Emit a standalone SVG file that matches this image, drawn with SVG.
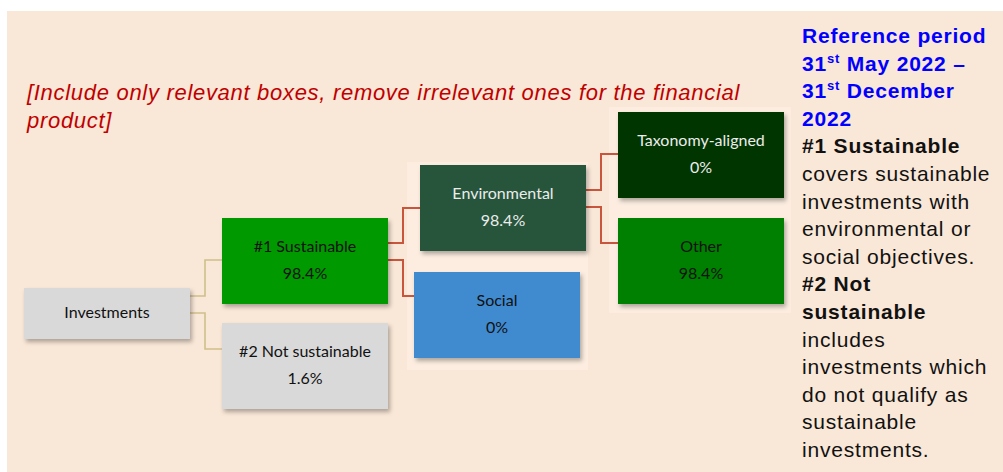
<svg xmlns="http://www.w3.org/2000/svg" width="1003" height="472" viewBox="0 0 1003 472">
<defs>
<filter id="sh" x="-10%" y="-10%" width="125%" height="130%">
<feDropShadow dx="2" dy="3" stdDeviation="2" flood-color="#000" flood-opacity="0.3"/>
</filter>
<style>
.box{filter:url(#sh);}
.bt{font-family:Lato,"Open Sans",sans-serif;font-size:16px;text-anchor:middle;}
.dk{fill:#111;}
.lt{fill:#ececec;}
.gold{fill:none;stroke:#cfc08a;stroke-width:1.6;}
.red{fill:none;stroke:#c9553c;stroke-width:2;}
.note{font-family:"Liberation Sans",Arial,sans-serif;font-size:22px;font-style:italic;fill:#c00000;letter-spacing:0.7px;}
.side{font-family:"Liberation Sans",Arial,sans-serif;font-size:21px;letter-spacing:0.8px;fill:#111;}
.blue{fill:#0000ff;font-weight:bold;}
.b{font-weight:bold;}
</style>
</defs>
<rect x="0" y="0" width="1003" height="472" fill="#ffffff"/>
<rect x="7" y="11" width="996" height="461" fill="#f9e7d7"/>
<rect x="407" y="162" width="181" height="208" fill="#fcede0"/>
<rect x="609" y="107" width="182" height="206" fill="#fcede0"/>

<text class="note"><tspan x="27" y="100">[Include only relevant boxes, remove irrelevant ones for the financial</tspan><tspan x="27" y="128">product]</tspan></text>

<g id="connectors">
<path class="gold" d="M190,296 H205 V260 H222"/>
<path class="gold" d="M190,313 H205 V349 H222"/>
<path class="red" d="M388,243 H403 V208 H420"/>
<path class="red" d="M388,260 H403 V296 H414"/>
<path class="red" d="M586,190 H601 V154 H618"/>
<path class="red" d="M586,207 H601 V243 H618"/>
</g>

<g id="investments">
<rect class="box" x="24" y="288" width="166" height="51" fill="#d9d9d9"/>
<text class="bt dk" x="107" y="318">Investments</text>
</g>
<g id="sustainable">
<rect class="box" x="222" y="218" width="166" height="86" fill="#009900"/>
<text class="bt dk" x="305" y="252">#1 Sustainable</text>
<text class="bt dk" x="305" y="279">98.4%</text>
</g>
<g id="not-sustainable">
<rect class="box" x="222" y="323" width="166" height="86" fill="#d9d9d9"/>
<text class="bt dk" x="305" y="357">#2 Not sustainable</text>
<text class="bt dk" x="305" y="384">1.6%</text>
</g>
<g id="environmental">
<rect class="box" x="420" y="165" width="166" height="86" fill="#25553a"/>
<text class="bt lt" x="503" y="199">Environmental</text>
<text class="bt lt" x="503" y="226">98.4%</text>
</g>
<g id="social">
<rect class="box" x="414" y="272" width="166" height="86" fill="#3f8bd0"/>
<text class="bt dk" x="497" y="306">Social</text>
<text class="bt dk" x="497" y="333">0%</text>
</g>
<g id="taxonomy">
<rect class="box" x="618" y="112" width="166" height="86" fill="#013401"/>
<text class="bt lt" x="701" y="146">Taxonomy-aligned</text>
<text class="bt lt" x="701" y="173">0%</text>
</g>
<g id="other">
<rect class="box" x="618" y="218" width="166" height="86" fill="#008000"/>
<text class="bt dk" x="701" y="252">Other</text>
<text class="bt dk" x="701" y="279">98.4%</text>
</g>

<text class="side">
<tspan class="blue" x="802" y="43">Reference period</tspan>
<tspan class="blue" x="802" y="70.6">31<tspan font-size="13" dy="-8">st</tspan><tspan dy="8"> May 2022 –</tspan></tspan>
<tspan class="blue" x="802" y="98.2">31<tspan font-size="13" dy="-8">st</tspan><tspan dy="8"> December</tspan></tspan>
<tspan class="blue" x="802" y="125.8">2022</tspan>
<tspan class="b" x="802" y="153.4">#1 Sustainable</tspan>
<tspan x="802" y="181">covers sustainable</tspan>
<tspan x="802" y="208.6">investments with</tspan>
<tspan x="802" y="236.2">environmental or</tspan>
<tspan x="802" y="263.8">social objectives.</tspan>
<tspan class="b" x="802" y="291.4">#2 Not</tspan>
<tspan class="b" x="802" y="319">sustainable</tspan>
<tspan x="802" y="346.6">includes</tspan>
<tspan x="802" y="374.2">investments which</tspan>
<tspan x="802" y="401.8">do not qualify as</tspan>
<tspan x="802" y="429.4">sustainable</tspan>
<tspan x="802" y="457">investments.</tspan>
</text>
</svg>
